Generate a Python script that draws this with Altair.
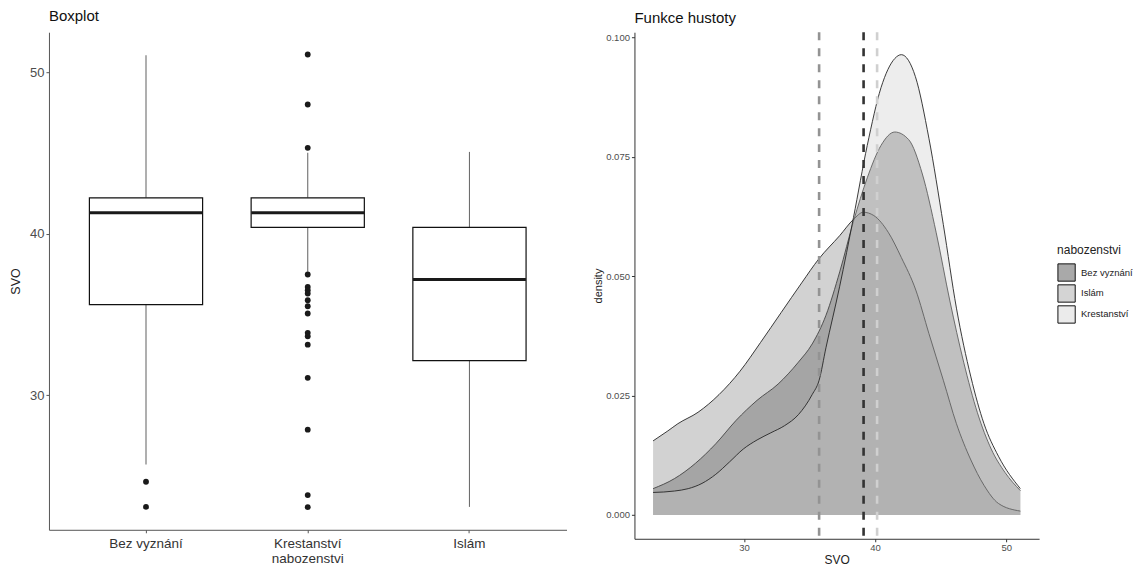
import altair as alt
import pandas as pd

FONT = "Liberation Sans"

# ---------------- Boxplot data ----------------
cats = ["Bez vyznání", "Krestanství nabozenstvi", "Islám"]
q1 = [35.61, 40.40, 32.14]
med = [41.31, 41.31, 37.17]
q3 = [42.23, 42.23, 40.40]
whisk_lo = [25.70, 37.65, 23.07]
whisk_hi = [51.07, 45.02, 45.08]

out_cat = (["Bez vyznání"] * 2 + ["Krestanství nabozenstvi"] * 17)
out_val = [24.63, 23.07,
           51.12, 48.02, 45.33, 37.48, 36.71, 36.50, 36.30, 35.88, 35.51,
           35.06, 33.86, 33.65, 33.13, 31.07, 27.86, 23.80, 23.05]

# ---------------- Density data ----------------
dens_x = {
    "Bez vyznání": [23.07, 24.7, 26.3, 27.85, 29.4, 31.0, 32.6, 34.15, 35.2, 36.25, 37.3, 38.35,
                    39.4, 40.45, 41.5, 42.56, 43.6, 44.65, 45.7, 46.75, 47.8, 48.85, 49.9, 51.07],
    "Islám": [23.07, 24.2, 24.96, 26.5, 28.1, 29.7, 31.26, 32.84, 34.4, 35.7, 37.3, 38.35,
              39.1, 39.9, 41.0, 42.0, 43.1, 44.1, 45.2, 46.2, 47.3, 48.3, 49.4, 51.07],
    "Krestanství": [23.07, 24.7, 25.75, 26.8, 27.85, 28.9, 29.95, 31.0, 32.05, 33.1, 34.15, 35.2,
                    35.73, 36.25, 37.3, 38.35, 39.4, 40.45, 41.5, 42.0, 43.07, 44.1, 45.2, 46.2,
                    47.3, 48.3, 49.4, 51.07],
}
dens_y = {
    "Bez vyznání": [0.0055, 0.0076, 0.0108, 0.0149, 0.0198, 0.0240, 0.0274, 0.0320, 0.0358, 0.0418,
                    0.0509, 0.0615, 0.0706, 0.0774, 0.0802, 0.0786, 0.0714, 0.0592, 0.0448, 0.0320,
                    0.0214, 0.0138, 0.0089, 0.0051],
    "Islám": [0.0155, 0.0176, 0.0191, 0.0215, 0.0252, 0.0301, 0.0361, 0.0424, 0.0486, 0.0536,
              0.0585, 0.0619, 0.0634, 0.0627, 0.0592, 0.0539, 0.0471, 0.0380, 0.0282, 0.0191,
              0.0115, 0.0062, 0.0024, 0.0008],
    "Krestanství": [0.0047, 0.0050, 0.0055, 0.0066, 0.0085, 0.0111, 0.0138, 0.0157, 0.0172, 0.0187,
                    0.0210, 0.0252, 0.0282, 0.0350, 0.0479, 0.0623, 0.0774, 0.0895, 0.0956, 0.0964,
                    0.0918, 0.0789, 0.0608, 0.0433, 0.0289, 0.0191, 0.0123, 0.0055],
}
series = ["Bez vyznání", "Islám", "Krestanství"]
means = [39.12, 35.73, 40.15]
fill_range = ["#3a3a3a", "#7f7f7f", "#cccccc"]
line_range = ["#333333", "#939393", "#d0d0d0"]
legend_range = ["#a9a9a9", "#d4d4d4", "#ebebeb"]

# ---------------- Build tables ----------------
box_df = pd.DataFrame({"cat": cats, "q1": q1, "med": med, "q3": q3,
                       "lo": whisk_lo, "hi": whisk_hi})
out_df = pd.DataFrame({"cat": out_cat, "v": out_val})
rows = []
for s in series:
    for xv, yv in zip(dens_x[s], dens_y[s]):
        rows.append({"g": s, "x": xv, "y": yv})
dens_df = pd.DataFrame(rows)
mean_df = pd.DataFrame({"rg": series, "m": means})
legend_df = pd.DataFrame({"nabozenstvi": series, "m": means})

# ---------------- Left panel ----------------
ydom = [21.65, 52.5]
xenc = alt.X("cat:N", sort=cats,
             scale=alt.Scale(paddingInner=0, paddingOuter=0.1),
             axis=alt.Axis(title=None, labelAngle=0, labelFontSize=13.5, labelColor="#333333",
                           labelExpr="datum.label == 'Krestanství nabozenstvi' ? ['Krestanství', 'nabozenstvi'] : datum.label",
                           labelLineHeight=14.5, labelPadding=4, tickSize=3, domainColor="#555555",
                           tickColor="#555555"))
yscale = alt.Scale(domain=ydom, nice=False, zero=False)
yaxis = alt.Axis(title="SVO", values=[30, 40, 50], labelFontSize=13, labelColor="#4d4d4d",
                 titleFontSize=12.5, titleFontWeight="normal", titleColor="#222222",
                 tickSize=3, domainColor="#555555", tickColor="#555555", grid=False,
                 titlePadding=7, labelPadding=2)

base_l = alt.Chart(box_df)
whisk1 = base_l.mark_rule(color="#6e6e6e", strokeWidth=1.1).encode(
    x=xenc, y=alt.Y("lo:Q", scale=yscale, axis=yaxis), y2="q1:Q")
whisk2 = base_l.mark_rule(color="#6e6e6e", strokeWidth=1.1).encode(
    x=xenc, y=alt.Y("q3:Q", scale=yscale, axis=yaxis), y2="hi:Q")
box = base_l.mark_bar(fill="white", stroke="#111111", strokeWidth=1.2,
                      width={"band": 0.7}).encode(
    x=xenc, y=alt.Y("q1:Q", scale=yscale, axis=yaxis), y2="q3:Q")
median = base_l.mark_tick(color="#1a1a1a", thickness=3, size=113, opacity=1).encode(
    x=xenc, y=alt.Y("med:Q", scale=yscale, axis=yaxis))
outl = alt.Chart(out_df).mark_circle(size=34, color="#1a1a1a", opacity=1).encode(
    x=xenc, y=alt.Y("v:Q", scale=yscale, axis=yaxis))

left = alt.layer(whisk1, whisk2, box, median, outl).properties(
    width=518, height=498,
    title=alt.TitleParams("Boxplot", anchor="start", frame="group", fontSize=15,
                          fontWeight="normal", color="#111111", offset=8))

# ---------------- Right panel ----------------
xs = alt.Scale(domain=[21.65, 52.5], nice=False, zero=False)
ys = alt.Scale(domain=[-0.005, 0.1011], nice=False, zero=False)
xax = alt.Axis(title="SVO", values=[30, 40, 50], labelFontSize=9.5, labelColor="#4d4d4d",
               titleFontSize=12, titleFontWeight="normal", titleColor="#222222",
               tickSize=3, domainColor="#333333", tickColor="#333333", grid=False,
               titlePadding=2, labelPadding=1)
yax = alt.Axis(title="density", values=[0, 0.025, 0.05, 0.075, 0.1], format=".3f",
               labelFontSize=9.5, labelColor="#4d4d4d", titleFontSize=11,
               titleFontWeight="normal", titleColor="#222222",
               tickSize=3, domainColor="#333333", tickColor="#333333", grid=False,
               titlePadding=2, labelPadding=2)
fill_enc = alt.Fill("g:N", scale=alt.Scale(domain=series, range=fill_range), legend=None)
layers = []
for s in series:
    b = alt.Chart(dens_df).transform_filter(alt.datum.g == s)
    layers.append(b.mark_area(fillOpacity=0.35, interpolate="monotone").encode(
        x=alt.X("x:Q", scale=xs, axis=xax), y=alt.Y("y:Q", scale=ys, axis=yax),
        y2=alt.datum(0), fill=fill_enc))
    layers.append(b.mark_line(color="#262626", strokeWidth=0.9, interpolate="monotone").encode(
        x=alt.X("x:Q", scale=xs, axis=xax), y=alt.Y("y:Q", scale=ys, axis=yax)))
rules = alt.Chart(mean_df).mark_rule(strokeDash=[8, 8], strokeWidth=2.6).encode(
    x=alt.X("m:Q", scale=xs, axis=xax),
    stroke=alt.Stroke("rg:N", scale=alt.Scale(domain=series, range=line_range), legend=None))
layers.append(rules)
# legend: keys show the translucent fills as they appear on white; the marks themselves
# sit below the clipped plot area so only the legend is visible
legend_layer = alt.Chart(legend_df).mark_square(
    stroke="#111111", strokeWidth=1, opacity=1, filled=True, clip=True, size=300).encode(
    x=alt.X("m:Q", scale=xs, axis=xax),
    y=alt.value(528),
    fill=alt.Fill("nabozenstvi:N", scale=alt.Scale(domain=series, range=legend_range),
                  legend=alt.Legend(title="nabozenstvi", orient="none", legendX=423, legendY=213,
                                    titleFontSize=12, titleFontWeight="normal", titleColor="#222222",
                                    labelFontSize=9.5, labelColor="#222222", symbolType="square",
                                    symbolSize=300, symbolStrokeColor="#111111", symbolStrokeWidth=1,
                                    rowPadding=-4, titlePadding=6, labelOffset=5)))
layers.append(legend_layer)

right = alt.layer(*layers).resolve_scale(fill="independent").properties(
    width=405, height=507,
    title=alt.TitleParams("Funkce hustoty", anchor="start", frame="group", fontSize=15,
                          fontWeight="normal", color="#111111", offset=5))

chart = alt.hconcat(left, right, spacing=26).properties(
    padding={"left": 1, "top": 1, "right": 0, "bottom": 0}
).configure(font=FONT).configure_view(stroke=None).configure_axis(
    labelFont=FONT, titleFont=FONT).resolve_scale(x="independent", y="independent",
                                                  fill="independent", color="independent",
                                                  stroke="independent")

chart.save("out.html", embed_options={"renderer": "svg", "actions": False})
